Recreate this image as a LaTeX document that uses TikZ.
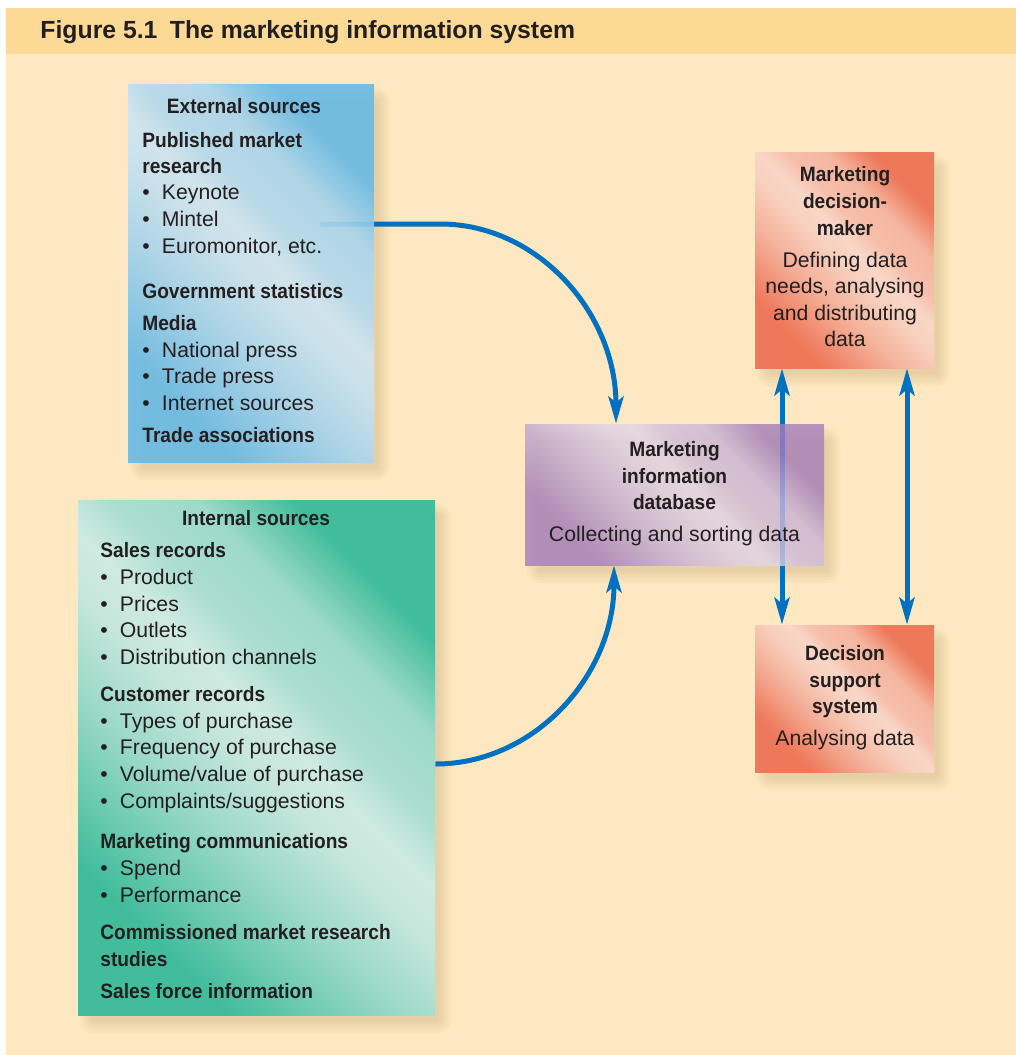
\documentclass[tikz,border=0pt]{standalone}
\usepackage{fontspec}
\usepackage{graphicx}
\setmainfont{Liberation Sans}
\usetikzlibrary{arrows.meta,calc}

\pgfdeclarelayer{backdrop}
\pgfdeclarelayer{links}
\pgfsetlayers{backdrop,links,main}

\definecolor{pagecream}{RGB}{254,232,193}
\definecolor{titleband}{RGB}{253,217,150}
\definecolor{arrowblue}{RGB}{0,112,192}
\definecolor{ink}{RGB}{35,31,32}
\definecolor{shadowtan}{RGB}{150,120,60}

% glossy diagonal fills: saturated at two corners, pale streak across the middle
\newcommand\glossshading[3]{%
  \pgfdeclarehorizontalshading{#1}{100bp}{%
    color(0bp)=(#2); color(27bp)=(#2); color(40bp)=(#3!65!#2);
    color(49bp)=(#3); color(54bp)=(#3!85!white); color(59bp)=(#3!80!#2);
    color(66bp)=(#3!70!#2); color(74bp)=(#2); color(100bp)=(#2)}}
\definecolor{bluedark}{RGB}{104,186,230}
\definecolor{bluelight}{RGB}{198,226,242}
\definecolor{greendark}{RGB}{66,189,156}
\definecolor{greenlight}{RGB}{198,230,220}
\definecolor{purpledark}{RGB}{165,126,188}
\definecolor{purplelight}{RGB}{222,208,230}
\definecolor{orangedark}{RGB}{238,120,90}
\definecolor{orangelight}{RGB}{248,208,190}
\glossshading{glossblue}{bluedark}{bluelight}
\glossshading{glossgreen}{greendark}{greenlight}
\glossshading{glosspurple}{purpledark}{purplelight}
\glossshading{glossorange}{orangedark}{orangelight}

\newcommand\regfont{\fontsize{10.6}{13}\selectfont}
\newcommand\hb[1]{\scalebox{0.92}[1]{\fontsize{10.4}{13}\selectfont\bfseries #1}}
\newcommand\bul[1]{\makebox[9.8pt][l]{\textbullet}#1}

\begin{document}
\begin{tikzpicture}[x=0.5pt,y=-0.5pt,
  panel/.style={draw=none, inner sep=0pt, shading angle=45},
  line/.style={inner sep=0pt, anchor=base west, text=ink, font=\regfont},
  cline/.style={inner sep=0pt, anchor=base, text=ink, font=\regfont},
  flowtip/.tip={Stealth[length=13.5pt, width=7.5pt, inset=3pt]},
  wire/.style={draw=arrowblue, line width=2.5pt, -{flowtip}},
  twoway/.style={draw=arrowblue, line width=2.5pt, {flowtip}-{flowtip}}]

\useasboundingbox (0,0) rectangle (1016,1055);

\node[inner sep=0pt, anchor=base west, text=ink,
  font=\fontsize{12.4}{15}\selectfont\bfseries] (title) at (40,38)
  {Figure 5.1\enspace The marketing information system};

% panels
\node[panel, shading=glossblue, fill opacity=0.9,
  minimum width=123pt, minimum height=189pt] (ext) at (251,273) {};
\node[panel, shading=glossgreen,
  minimum width=178.5pt, minimum height=257.5pt] (int) at (256.5,757.5) {};
\node[panel, shading=glosspurple, fill opacity=0.8,
  minimum width=149.5pt, minimum height=70.5pt] (mid) at (674.5,494.5) {};
\node[panel, shading=glossorange,
  minimum width=89.5pt, minimum height=108pt] (dm) at (844.5,260) {};
\node[panel, shading=glossorange,
  minimum width=89.5pt, minimum height=73.5pt] (dss) at (844.5,698.5) {};

% page, title band and the soft shadows behind the panels
\begin{pgfonlayer}{backdrop}
  \fill[white] (0,0) rectangle (1016,1055);
  \fill[pagecream] (6,8) rectangle (1016,1055);
  \fill[titleband] (6,8) rectangle (1016,54);
  \foreach \n in {ext,int,mid,dm,dss}
    \foreach \k in {0,...,4}
      \fill[shadowtan, fill opacity=0.045, rounded corners=1.5pt+\k*1.5pt]
        ($(\n.north west)+(14-\k*3,16-\k*3)$) rectangle
        ($(\n.south east)+(4+\k*3,6+\k*3)$);
\end{pgfonlayer}

% external sources text
\node[cline] (ext-head) at (244,113.5) {\hb{External sources}};
\foreach \y/\t [count=\i] in {141/{Published market}, 167/research,
    292/{Government statistics}, 324/Media, 436/{Trade associations}}
  \node[line] (ext-h\i) at (142,\y+6.5) {\hb{\t}};
\foreach \y/\t [count=\i] in {193/Keynote, 220/Mintel, 247/{Euromonitor, etc.},
    351/{National press}, 377/{Trade press}, 404/{Internet sources}}
  \node[line] (ext-b\i) at (142,\y+6.5) {\bul{\t}};

% internal sources text
\node[cline] (int-head) at (256,525.5) {\hb{Internal sources}};
\foreach \y/\t [count=\i] in {551/{Sales records}, 695/{Customer records},
    842/{Marketing communications}, 933/{Commissioned market research},
    960/studies, 992/{Sales force information}}
  \node[line] (int-h\i) at (100,\y+6.5) {\hb{\t}};
\foreach \y/\t [count=\i] in {578/Product, 605/Prices, 631/Outlets,
    658/{Distribution channels}, 722/{Types of purchase},
    748/{Frequency of purchase}, 775/{Volume/value of purchase},
    802/{Complaints/suggestions}, 869/Spend, 896/Performance}
  \node[line] (int-b\i) at (100,\y+6.5) {\bul{\t}};

% database text
\foreach \y/\t [count=\i] in {450/Marketing, 477/information, 503/database}
  \node[cline] (mid-h\i) at (674.5,\y+6.5) {\hb{\t}};
\node[cline] (mid-b1) at (674.5,541.5) {Collecting and sorting data};

% decision-maker text
\foreach \y/\t [count=\i] in {175/Marketing, 202/decision-, 229/maker}
  \node[cline] (dm-h\i) at (845,\y+6.5) {\hb{\t}};
\foreach \y/\t [count=\i] in {261/{Defining data}, 287/{needs, analysing},
    314/{and distributing}, 340/data}
  \node[cline] (dm-b\i) at (845,\y+6.5) {\t};

% decision support text
\foreach \y/\t [count=\i] in {654/Decision, 681/support, 707/system}
  \node[cline] (dss-h\i) at (845,\y+6.5) {\hb{\t}};
\node[cline] (dss-b1) at (845,745.5) {Analysing data};

% connectors
\begin{pgfonlayer}{links}
  \draw[wire] ($(ext.east)+(-54,-49)$) -- ($(ext.east)+(66,-49)$)
    .. controls ($(ext.east)+(163,-49)$) and ($(mid.north)+(-58.5,-111)$)
    .. ($(mid.north)+(-58.5,0)$);
  \draw[wire] ($(int.east)+(0,6.5)$)
    .. controls ($(int.east)+(99,6.5)$) and ($(mid.south)+(-60.5,110)$)
    .. ($(mid.south)+(-60.5,0)$);
  \draw[twoway] ($(dm.south)+(-62.5,0)$) -- ($(dss.north)+(-62.5,0)$);
  \draw[twoway] ($(dm.south)+(62.5,0)$) -- ($(dss.north)+(62.5,0)$);
\end{pgfonlayer}
\end{tikzpicture}
\end{document}
